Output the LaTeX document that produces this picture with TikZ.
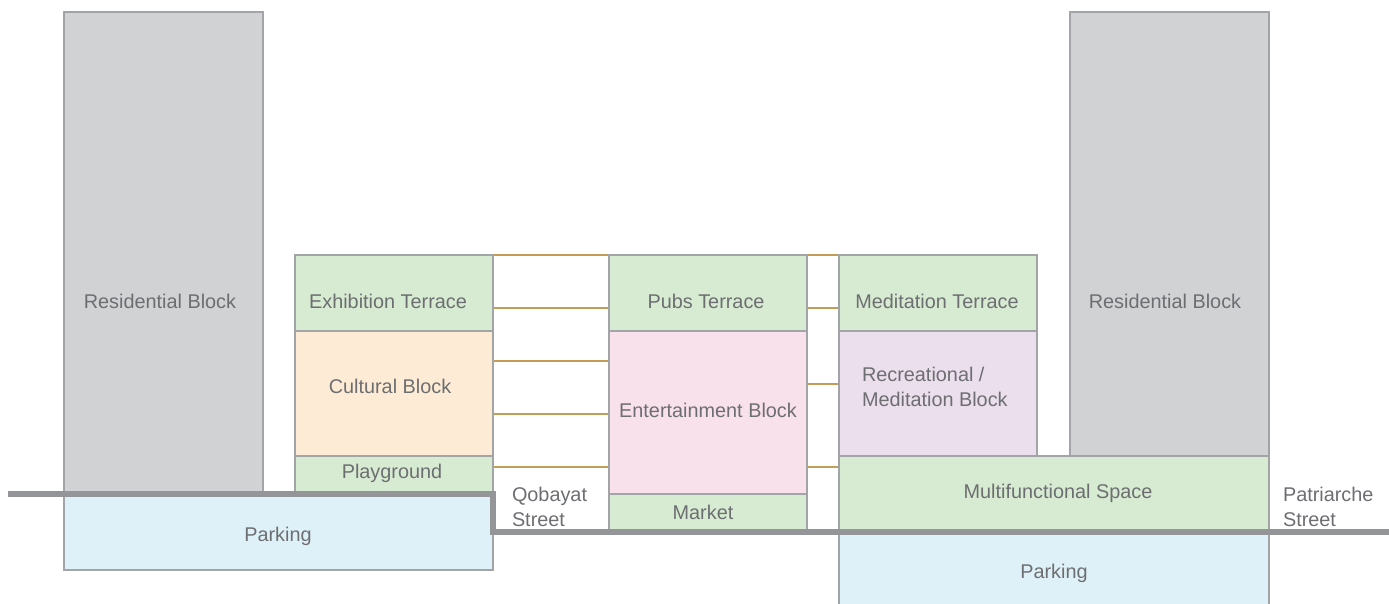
\documentclass[tikz,border=0pt]{standalone}
\usepackage{fontspec}
\setmainfont{Liberation Sans}
\usepackage{xcolor}
\usepackage{tikz}
\pgfdeclarelayer{bg}
\pgfsetlayers{bg,main}

\definecolor{edgegray}{HTML}{A2A4A7}
\definecolor{streetgray}{HTML}{939598}
\definecolor{textgray}{HTML}{6D6E71}
\definecolor{resgray}{HTML}{D1D2D4}
\definecolor{terrgreen}{HTML}{D7EBD2}
\definecolor{cultpeach}{HTML}{FEEBD5}
\definecolor{entpink}{HTML}{F9E1EC}
\definecolor{recrlilac}{HTML}{EBDFED}
\definecolor{parkblue}{HTML}{DFF1F8}
\definecolor{tiegold}{HTML}{C39D55}

\begin{document}
\begin{tikzpicture}[x=0.02cm, y=-0.02cm,
	every node/.style={inner sep=0pt, outer sep=0pt},
	blk/.style 2 args={draw=edgegray, line width=1.1pt, anchor=north west, minimum width=#1*0.02cm, minimum height=#2*0.02cm},
	txt/.style={text=textgray, font=\fontsize{11.3}{14.5}\selectfont, anchor=base},
	tie/.style={draw=tiegold, line width=1.1pt},
	street/.style={draw=streetgray, line width=3.4pt, line cap=butt, line join=miter}]
			\useasboundingbox (0,0) rectangle (1389,603);
			% blocks
			\node[blk={199}{481}, fill=resgray] (resL) at (64,12) {};
			\node[blk={429}{76}, fill=parkblue] (parkL) at (64,494) {};
			\node[blk={198}{76}, fill=terrgreen] (exhT) at (295,255) {};
			\node[blk={198}{125}, fill=cultpeach] (cult) at (295,331) {};
			\node[blk={198}{38}, fill=terrgreen] (play) at (295,456) {};
			\node[blk={198}{76}, fill=terrgreen] (pubs) at (609,255) {};
			\node[blk={198}{163}, fill=entpink] (ent) at (609,331) {};
			\node[blk={198}{37}, fill=terrgreen] (mkt) at (609,494) {};
			\node[blk={198}{76}, fill=terrgreen] (medT) at (839,255) {};
			\node[blk={198}{125}, fill=recrlilac] (recr) at (839,331) {};
			\node[blk={199}{444}, fill=resgray] (resR) at (1070,12) {};
			\node[blk={430}{76}, fill=terrgreen] (multi) at (839,456) {};
			\node[blk={430}{80}, fill=parkblue] (parkR) at (839,532) {};
			
			% bridges
			\begin{pgfonlayer}{bg}
			\foreach \y in {255, 308, 361, 414, 467}
			{
				\draw[tie] (exhT.east |- 0,\y) -- (pubs.west |- 0,\y);
			}
			\foreach \y in {255, 308, 384, 467}
			{
				\draw[tie] (pubs.east |- 0,\y) -- (medT.west |- 0,\y);
			}
			\end{pgfonlayer}
			
			% streets
			\coordinate (stStart) at (8,494);
			\coordinate (stEnd) at (1389,532);
			\draw[street] (stStart) -- (parkL.north east) -- (parkL.north east |- stEnd) -- (stEnd);
			
			% labels
			\node[txt] (resLtxt) at (160,308) {Residential Block};
			\node[txt] (exhTtxt) at (388,308) {Exhibition Terrace};
			\node[txt] (culttxt) at (390,393) {Cultural Block};
			\node[txt] (playtxt) at (392,478) {Playground};
			\node[txt] (parkLtxt) at (278,541) {Parking};
			\node[txt] (pubstxt) at (706,308) {Pubs Terrace};
			\node[txt] (enttxt) at (708,417) {Entertainment Block};
			\node[txt] (mkttxt) at (703,519) {Market};
			\node[txt] (medTtxt) at (937,308) {Meditation Terrace};
			\node[txt, anchor=west, align=left] (recrtxt) at (862,387) {Recreational /\\Meditation Block};
			\node[txt] (resRtxt) at (1165,308) {Residential Block};
			\node[txt] (multitxt) at (1058,498) {Multifunctional Space};
			\node[txt] (parkRtxt) at (1054,578) {Parking};
			\node[txt, anchor=west, align=left] (qobtxt) at (512,507) {Qobayat\\Street};
			\node[txt, anchor=west, align=left] (pattxt) at (1283,507) {Patriarche\\Street};
		\end{tikzpicture}
\end{document}
